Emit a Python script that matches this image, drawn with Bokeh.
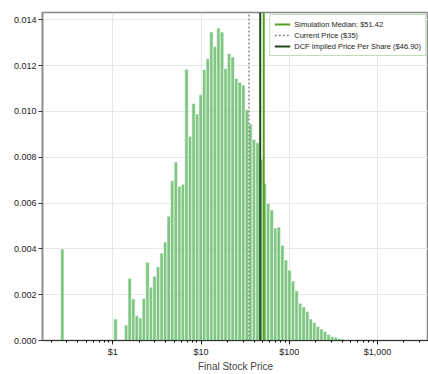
import numpy as np
from bokeh.plotting import figure
from bokeh.models import Range1d, NumeralTickFormatter, FixedTicker, Legend, LegendItem
from bokeh.embed import file_html
from bokeh.resources import INLINE

# ---- data ----
bin_low = 0.2553
bin_high = 2704.0
n_bins = 100
density = [
    0.00400, 0, 0, 0, 0, 0, 0, 0, 0, 0, 0, 0, 0, 0, 0,
    0.00094, 0, 0,
    0.00068, 0.00271, 0.00182, 0.00108, 0.00098, 0.00183, 0.00342, 0.00233,
    0.00281, 0.00322, 0.00382, 0.00430, 0.00543, 0.00697, 0.00779, 0.00673,
    0.00682, 0.01184, 0.00892, 0.01035, 0.00989, 0.01073, 0.01183, 0.01230,
    0.01347, 0.01284, 0.01364, 0.01347, 0.01188, 0.01253, 0.01238, 0.01144,
    0.01128, 0.01115, 0.01007, 0.00945, 0.00877, 0.00863, 0.00790, 0.00685,
    0.00599, 0.00570, 0.00491, 0.00495, 0.00416, 0.00351, 0.00307, 0.00260,
    0.00217, 0.00163, 0.00147, 0.00127, 0.00094, 0.00079, 0.00061, 0.00050,
    0.00039, 0.00026, 0.00017, 0.00014, 0.00009, 0.00007, 0.00004, 0.00002,
    0.00001, 0, 0, 0, 0, 0, 0, 0, 0, 0, 0, 0, 0, 0, 0, 0, 0, 0,
]
median_price = 51.42
current_price = 35.0
dcf_price = 46.90
y_ticks = [0.000, 0.002, 0.004, 0.006, 0.008, 0.010, 0.012, 0.014]
x_start, x_end = 0.1596, 3795.0
y_end = 0.01432

FONT = "Liberation Sans"

edges = np.logspace(np.log10(bin_low), np.log10(bin_high), n_bins + 1)
dens = np.array(density)
mask = dens > 0

p = figure(width=428, height=374, x_axis_type="log",
           x_range=Range1d(x_start, x_end), y_range=Range1d(0, y_end),
           output_backend="svg", toolbar_location=None,
           min_border_left=42, min_border_right=0, min_border_top=12, min_border_bottom=0,
           background_fill_color="white", border_fill_color="white")

p.quad(left=edges[:-1][mask], right=edges[1:][mask], top=dens[mask], bottom=0,
       fill_color="#4caf50", fill_alpha=0.7, line_color="white", line_width=0.6)

r_cur = p.segment(x0=[current_price], y0=[0], x1=[current_price], y1=[y_end],
                  line_color="#888888", line_width=1.5, line_dash="2 2")
r_dcf = p.segment(x0=[dcf_price], y0=[0], x1=[dcf_price], y1=[y_end],
                  line_color="#1f4a1f", line_width=2)
r_med = p.segment(x0=[median_price], y0=[0], x1=[median_price], y1=[y_end],
                  line_color="#5a9e22", line_width=2)

legend = Legend(items=[
    LegendItem(label="Simulation Median: $%.2f" % median_price, renderers=[r_med]),
    LegendItem(label="Current Price ($%d)" % current_price, renderers=[r_cur]),
    LegendItem(label="DCF Implied Price Per Share ($%.2f)" % dcf_price, renderers=[r_dcf]),
], location="top_right")
legend.label_text_font = FONT
legend.label_text_font_size = "7.5px"
legend.label_text_color = "#222222"
legend.glyph_height = 10
legend.glyph_width = 16
legend.label_height = 10
legend.spacing = 1
legend.padding = 4
legend.margin = 2
legend.label_standoff = 4
legend.border_line_color = "#7dbf6e"
legend.border_line_width = 1.2
legend.background_fill_alpha = 0.9
p.add_layout(legend)

p.outline_line_color = "#888888"
p.outline_line_width = 1.5

p.xaxis.axis_label = "Final Stock Price"
p.xaxis.axis_label_text_font = FONT
p.xaxis.axis_label_text_font_size = "10px"
p.xaxis.axis_label_text_font_style = "normal"
p.xaxis.axis_label_standoff = 1
p.xaxis.formatter = NumeralTickFormatter(format="$0,0")

p.yaxis.ticker = FixedTicker(ticks=y_ticks)
p.yaxis.formatter = NumeralTickFormatter(format="0.000")
p.yaxis.minor_tick_line_color = None

for ax in (p.xaxis, p.yaxis):
    ax.major_label_text_font = FONT
    ax.major_label_text_font_size = "9px"
    ax.major_label_text_color = "#222222"
    ax.major_label_standoff = 2
    ax.major_tick_out = 4
    ax.major_tick_in = 0
    ax.minor_tick_out = 2
    ax.minor_tick_in = 0
    ax.axis_line_color = "#333333"
    ax.major_tick_line_color = "#333333"
p.yaxis.axis_line_color = "#888888"
p.yaxis.axis_line_width = 1.5

p.xgrid.grid_line_color = "#d6e6d6"
p.ygrid.grid_line_color = "#dfe6df"
p.xgrid.grid_line_alpha = 0.8
p.ygrid.grid_line_alpha = 0.8

open("out.html", "w").write(file_html(p, INLINE))
